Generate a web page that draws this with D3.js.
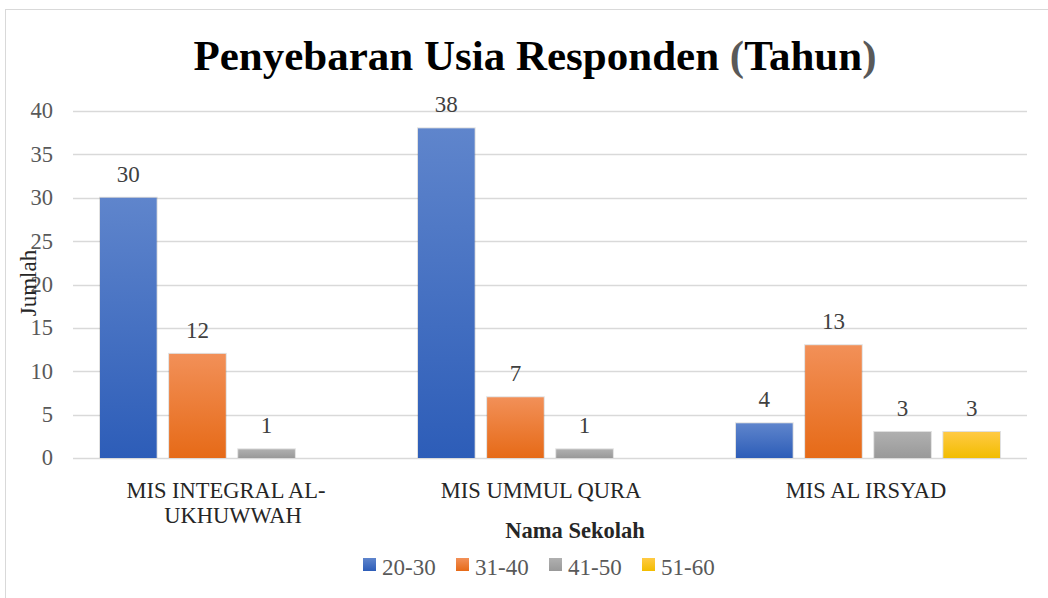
<!DOCTYPE html>
<html>
<head>
<meta charset="utf-8">
<script src="https://cdn.jsdelivr.net/npm/d3@7"></script>
<style>
  body { margin: 0; background: #fff; }
</style>
</head>
<body>
<svg id="chart" width="1048" height="598"></svg>
<script>
// Data
const schools = ["MIS INTEGRAL AL-UKHUWWAH", "MIS UMMUL QURA", "MIS AL IRSYAD"];
const schoolLines = [["MIS INTEGRAL AL-", "UKHUWWAH"], ["MIS UMMUL QURA"], ["MIS AL IRSYAD"]];
const ageGroups = ["20-30", "31-40", "41-50", "51-60"];
const age2030 = [30, 38, 4];
const age3140 = [12, 7, 13];
const age4150 = [1, 1, 3];
const age5160 = [null, null, 3];
const yTicks = [0, 5, 10, 15, 20, 25, 30, 35, 40];

const seriesValues = [age2030, age3140, age4150, age5160];
const colors = [
  {top: "#5f85cc", bottom: "#2d5db8"},
  {top: "#f29058", bottom: "#e66a17"},
  {top: "#b0b0b0", bottom: "#999999"},
  {top: "#ffca44", bottom: "#f2bd00"}
];
const FONT = '"Liberation Serif"';

const svg = d3.select("#chart");
const margin = {top: 111, right: 21, bottom: 140, left: 73};
const width = 1048 - margin.left - margin.right;
const height = 598 - margin.top - margin.bottom;

// chart border
svg.append("rect")
  .attr("x", 5.5).attr("y", 9.5)
  .attr("width", 1060).attr("height", 600)
  .attr("fill", "none")
  .attr("stroke", "#d9d9d9");

// gradients
const defs = svg.append("defs");
colors.forEach((c, i) => {
  const g = defs.append("linearGradient")
    .attr("id", "grad" + i)
    .attr("x1", 0).attr("y1", 0).attr("x2", 0).attr("y2", 1);
  g.append("stop").attr("offset", "0%").attr("stop-color", c.top);
  g.append("stop").attr("offset", "100%").attr("stop-color", c.bottom);
});

const chart = svg.append("g")
  .attr("transform", `translate(${margin.left},${margin.top})`);

const x0 = d3.scaleBand()
  .domain(schools)
  .range([0, width])
  .paddingInner(0)
  .paddingOuter(0);

const x1 = d3.scaleBand()
  .domain(ageGroups)
  .range([27, x0.bandwidth() - 27])
  .paddingInner(0.18)
  .paddingOuter(0);

const y = d3.scaleLinear()
  .domain([0, 40])
  .range([height, 0]);

// gridlines
chart.append("g")
  .selectAll("line")
  .data(yTicks)
  .join("line")
  .attr("x1", 0).attr("x2", width)
  .attr("y1", d => Math.round(y(d)) + 0.5)
  .attr("y2", d => Math.round(y(d)) + 0.5)
  .attr("stroke", "#d9d9d9")
  .attr("stroke-width", 1.5);

// y axis labels
chart.append("g")
  .selectAll("text")
  .data(yTicks)
  .join("text")
  .attr("x", -20)
  .attr("y", d => y(d))
  .attr("dy", "0.33em")
  .attr("text-anchor", "end")
  .attr("fill", "#595959")
  .style("font-family", FONT)
  .style("font-size", "22.5px")
  .text(d => d);

// bars
const groups = chart.selectAll(".school")
  .data(schools)
  .join("g")
  .attr("class", "school")
  .attr("transform", d => `translate(${x0(d)},0)`);

groups.each(function(school, si) {
  const rows = ageGroups.map((a, ai) => ({age: a, idx: ai, value: seriesValues[ai][si]}))
    .filter(d => d.value != null);
  const g = d3.select(this);
  // soft edge behind each bar
  g.selectAll("rect.edge")
    .data(rows)
    .join("rect")
    .attr("class", "edge")
    .attr("x", d => x1(d.age) - 1)
    .attr("y", d => y(d.value) - 1)
    .attr("width", x1.bandwidth() + 2)
    .attr("height", d => y(0) - y(d.value) + 1)
    .attr("fill", "#000")
    .attr("opacity", 0.12);
  g.selectAll("rect.bar")
    .data(rows)
    .join("rect")
    .attr("class", "bar")
    .attr("x", d => x1(d.age))
    .attr("y", d => y(d.value))
    .attr("width", x1.bandwidth())
    .attr("height", d => y(0) - y(d.value))
    .attr("fill", d => `url(#grad${d.idx})`);
  g.selectAll("text.val")
    .data(rows)
    .join("text")
    .attr("class", "val")
    .attr("x", d => x1(d.age) + x1.bandwidth() / 2)
    .attr("y", d => y(d.value) - 16)
    .attr("text-anchor", "middle")
    .attr("fill", "#404040")
    .style("font-family", FONT)
    .style("font-size", "23px")
    .text(d => d.value);
});

// x category labels
const lineShift = [[-6, 1], [-9], [-2]];
const xLab = chart.append("g");
schools.forEach((s, i) => {
  const cx = x0(s) + x0.bandwidth() / 2;
  const t = xLab.append("text")
    .attr("x", cx)
    .attr("y", height + 40)
    .attr("text-anchor", "middle")
    .attr("fill", "#262626")
    .style("font-family", FONT)
    .style("font-size", "22.5px");
  schoolLines[i].forEach((line, li) => {
    t.append("tspan")
      .attr("x", cx + lineShift[i][li])
      .attr("dy", li === 0 ? 0 : 25)
      .text(line);
  });
});

// title
const title = svg.append("text")
  .attr("x", 535)
  .attr("y", 70)
  .attr("text-anchor", "middle")
  .style("font-family", FONT)
  .style("font-size", "43px")
  .style("font-weight", "bold");
title.append("tspan").attr("fill", "#000").text("Penyebaran Usia Responden ");
title.append("tspan").attr("fill", "#595959").text("(");
title.append("tspan").attr("fill", "#000").text("Tahun");
title.append("tspan").attr("fill", "#595959").text(")");

// axis titles
svg.append("text")
  .attr("x", 575)
  .attr("y", 538)
  .attr("text-anchor", "middle")
  .attr("fill", "#262626")
  .style("font-family", FONT)
  .style("font-size", "22.5px")
  .style("font-weight", "bold")
  .text("Nama Sekolah");

svg.append("text")
  .attr("transform", "translate(36,283) rotate(-90)")
  .attr("text-anchor", "middle")
  .attr("fill", "#262626")
  .style("font-family", FONT)
  .style("font-size", "23px")
  .text("Jumlah");

// legend
const legendItems = [
  {label: "20-30", x: 363},
  {label: "31-40", x: 456},
  {label: "41-50", x: 549},
  {label: "51-60", x: 642}
];
const legend = svg.append("g");
legendItems.forEach((d, i) => {
  legend.append("rect")
    .attr("x", d.x).attr("y", 558)
    .attr("width", 13).attr("height", 13)
    .attr("fill", `url(#grad${i})`);
  legend.append("text")
    .attr("x", d.x + 19).attr("y", 575)
    .attr("fill", "#595959")
    .style("font-family", FONT)
    .style("font-size", "23px")
    .text(ageGroups[i]);
});
</script>
</body>
</html>
